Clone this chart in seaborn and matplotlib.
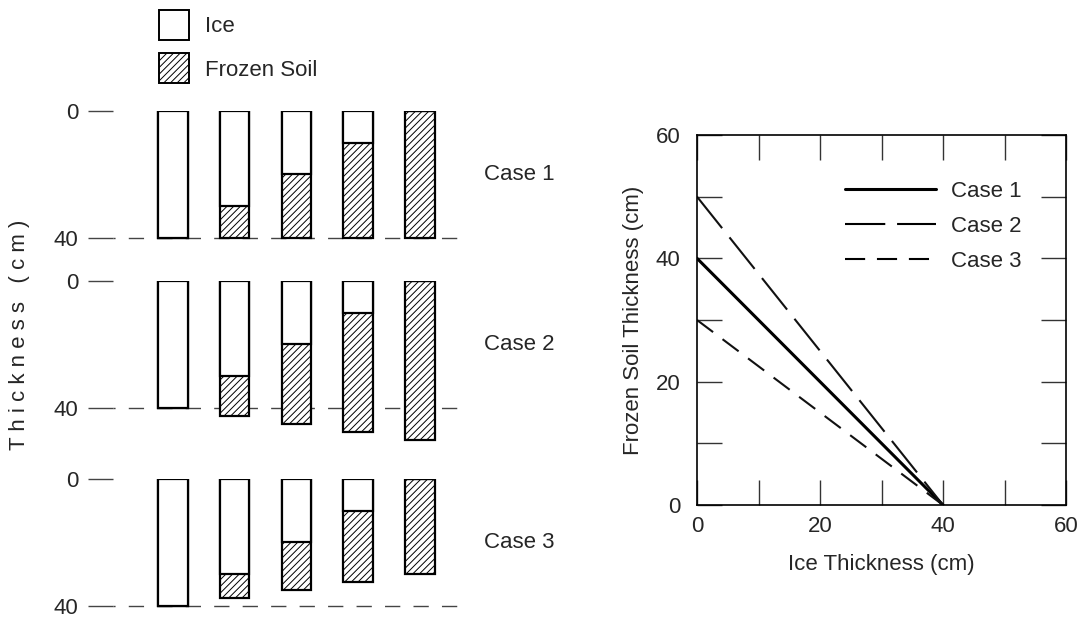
import matplotlib
matplotlib.use("Agg")
import matplotlib.pyplot as plt
from matplotlib.patches import Patch
import seaborn as sns
import pandas as pd

# bar data: ice thickness per column and frozen soil for each case (cm)
ice = [40, 30, 20, 10, 0]
soil_case1 = [0, 10, 20, 30, 40]
soil_case2 = [0, 12.5, 25, 37.5, 50]
soil_case3 = [0, 7.5, 15, 22.5, 30]
cases = ["Case 1", "Case 2", "Case 3"]
soils = [soil_case1, soil_case2, soil_case3]

sns.set_theme(style="white")
plt.rcParams["font.family"] = ["Liberation Sans", "DejaVu Sans"]
plt.rcParams["hatch.linewidth"] = 0.7
plt.rcParams["lines.scale_dashes"] = False

fig = plt.figure(figsize=(10.8, 6.2), dpi=100)
W, H = 1080, 620
px = 3.17  # pixels per cm on the left panel
FS = 16

# --- left panel: one axes per case ---
tops = [111, 281, 479]
ymaxes = [42, 52, 42]
cols = [f"c{i}" for i in range(len(ice))]
for case, soil, top, ymax in zip(cases, soils, tops, ymaxes):
    h = ymax * px
    ax = fig.add_axes([113 / W, 1 - (top + h) / H, 350 / W, h / H])
    df = pd.DataFrame({"col": cols, "ice": ice,
                       "total": [a + b for a, b in zip(ice, soil)]})
    ax.axhline(40, color="#444444", lw=1.0, ls=(9.5, (11, 9.5)), zorder=0)
    sns.barplot(data=df, x="col", y="total", ax=ax, color="white",
                edgecolor="black", linewidth=1.6, hatch="/////", width=0.48,
                zorder=2)
    sns.barplot(data=df, x="col", y="ice", ax=ax, color="white",
                edgecolor="black", linewidth=1.6, width=0.48, zorder=3)
    ax.set_xlim(-0.97, 4.7)
    ax.set_ylim(ymax, 0)
    ax.set_xlabel("")
    ax.set_ylabel("")
    ax.set_xticks([])
    ax.set_yticks([0, 40])
    ax.set_yticklabels(["0", "40"], fontsize=FS)
    ax.tick_params(axis="y", direction="out", length=18, width=1.0,
                   color="#444444", pad=7, left=True)
    for s in ax.spines.values():
        s.set_visible(False)
    ax.patch.set_alpha(0)
    ax.text(1.06, 20, case, transform=ax.get_yaxis_transform(),
            fontsize=FS, va="center", ha="left")

fig.text(20 / W, 1 - 335 / H, "T h i c k n e s s   ( c m )", rotation=90,
         fontsize=FS, va="center", ha="center")

handles = [Patch(facecolor="white", edgecolor="black", linewidth=1.4, label="Ice"),
           Patch(facecolor="white", edgecolor="black", linewidth=1.4,
                 hatch="/////", label="Frozen Soil")]
fig.legend(handles=handles, loc="upper left", bbox_to_anchor=(159 / W, 1 - 10 / H),
           frameon=False, fontsize=FS, handlelength=1.36, handleheight=1.7,
           handletextpad=0.7, labelspacing=0.6, borderpad=0, borderaxespad=0)

# --- right panel: frozen soil vs ice thickness ---
rows = []
for case, soil in zip(cases, soils):
    for a, b in zip(ice, soil):
        rows.append({"Ice": a, "Soil": b, "Case": case})
lines = pd.DataFrame(rows)

axr = fig.add_axes([697 / W, 1 - 505 / H, 369 / W, 370 / H])
sns.lineplot(data=lines, x="Ice", y="Soil", hue="Case", style="Case",
             palette=["black", "#111111", "#111111"],
             dashes={"Case 1": "", "Case 2": (29, 8.5), "Case 3": (14.5, 8.5)},
             size="Case", sizes={"Case 1": 2.2, "Case 2": 1.5, "Case 3": 1.5},
             ax=axr, legend=True)
axr.set_xlim(0, 60)
axr.set_ylim(0, 60)
axr.set_xticks([0, 20, 40, 60])
axr.set_yticks([0, 20, 40, 60])
axr.set_xticks([10, 30, 50], minor=True)
axr.set_yticks([10, 30, 50], minor=True)
axr.tick_params(which="both", direction="in", length=18, width=1.0,
                top=True, right=True, bottom=True, left=True, labelsize=FS,
                color="#333333")
axr.tick_params(axis="x", which="major", pad=8)
axr.tick_params(axis="y", which="major", pad=12)
for s in axr.spines.values():
    s.set_visible(True)
    s.set_color("black")
    s.set_linewidth(1.2)
axr.set_xlabel("Ice Thickness (cm)", fontsize=FS, labelpad=12)
axr.set_ylabel("Frozen Soil Thickness (cm)", fontsize=FS, labelpad=8)
leg = axr.legend(loc="upper left", bbox_to_anchor=(0.40, 0.875), frameon=False,
                 fontsize=FS, handlelength=4.1, handletextpad=0.7,
                 labelspacing=0.62, borderpad=0, borderaxespad=0)
for ln in leg.get_lines():
    ln.set_color("black")

fig.savefig("out.png", dpi=100)
